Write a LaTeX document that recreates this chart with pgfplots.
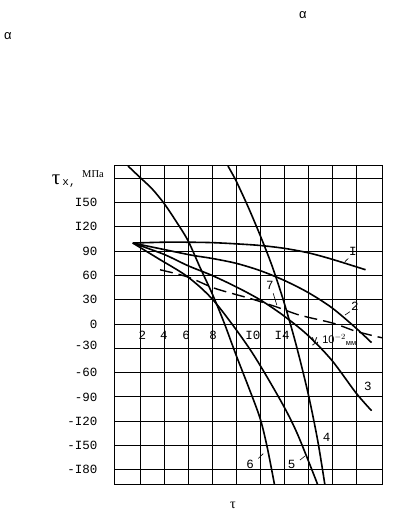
\documentclass[border=0pt]{standalone}
\usepackage{fontspec}
\setmainfont{Liberation Serif}
\newfontfamily\sansf{Liberation Sans}
\newfontfamily\monof{Liberation Mono}
\usepackage{pgfplots}
\pgfplotsset{compat=1.18}
\begin{document}
\begin{tikzpicture}[x=1pt,y=1pt]
\path[use as bounding box] (0,0) rectangle (392,516);
\begin{axis}[at={(114pt,32pt)}, anchor=south west, scale only axis,
  width=268pt, height=318pt,
  xmin=-0.167, xmax=22.17, ymin=-197.5, ymax=195.1,
  xtick={2,4,...,20}, xticklabels={},
  ytick={-180,-150,...,180},
  yticklabels={-I80,-I50,-I20,-90,-60,{\raisebox{6pt}{-30}},0,30,60,90,I20,I50,{}},
  grid=major, major grid style={black, line width=0.9pt},
  axis line style={black, line width=1pt},
  tick style={draw=none},
  yticklabel style={font=\monof\fontsize{12.5}{12.5}\selectfont, xshift=-13pt},
  /pgf/number format/assume math mode=true,
  clip=true,
]
% 1
\addplot[black, line width=1.6pt, smooth, tension=0.5] coordinates {(1.4,100) (4,101) (6,101) (8,100.5) (10,99) (12,97) (14,93.5) (16,88) (18,80) (20.8,67)};
% 2
\addplot[black, line width=1.6pt, smooth, tension=0.5] coordinates {(1.4,100) (4,92) (6.3,85) (8,81) (10,75) (12,66) (14,54) (16,39) (18,20) (20,-5) (21.3,-23)};
% 3
\addplot[black, line width=1.6pt, smooth, tension=0.5] coordinates {(1.4,100) (4,86) (6,72) (8,60) (10,46) (12,30) (14,10) (16,-14) (18,-45) (20,-85) (21.3,-107)};
% 4
\addplot[black, line width=1.6pt, smooth, tension=0.5] coordinates {(9.33,195.1) (10,177) (11,145) (12,110) (13,72) (14,27) (15,-25) (16,-85) (16.8,-143) (17.4,-197.5)};
% 5
\addplot[black, line width=1.6pt, smooth, tension=0.5] coordinates {(1.4,100) (3.5,81) (6,58) (8.25,27) (11.2,-32) (13.7,-94) (15.1,-135) (16.79,-197.5)};
% 6
\addplot[black, line width=1.6pt, smooth, tension=0.5] coordinates {(1.0,195.1) (2,181) (3,167) (4,149) (5,127) (6,103) (7,70) (8,38) (9,2) (10,-38) (11,-76) (12,-116) (12.6,-152) (13.2,-197.5)};
% 7 dashed
\addplot[black, line width=1.4pt, dash pattern=on 13pt off 6pt, smooth, tension=0.5] coordinates {(3.67,67) (6,58) (8.25,44) (11.3,31) (13.4,21) (15.3,11) (18.1,1) (20,-9) (22.17,-17)};

% curve labels
\tikzset{cl/.style={font=\monof\fontsize{12.5}{12.5}\selectfont, inner sep=0pt}}
\node[cl] at (axis cs:19.75,90) {I};
\draw[black, line width=0.6pt] (axis cs:19.36,81) -- (axis cs:19.08,77);
\node[cl] at (axis cs:19.9,21.4) {2};
\draw[black, line width=0.6pt] (axis cs:19.5,15.2) -- (axis cs:19.08,11.1);
\node[cl] at (axis cs:21.0,-76.5) {3};
\node[cl] at (axis cs:17.56,-140) {4};
\node[cl] at (axis cs:14.64,-173) {5};
\draw[black, line width=0.6pt] (axis cs:15.33,-168) -- (axis cs:15.75,-163);
\node[cl] at (axis cs:11.17,-173) {6};
\draw[black, line width=0.6pt] (axis cs:11.86,-166) -- (axis cs:12.27,-160);
\node[cl] at (axis cs:12.83,48) {7};
\draw[black, line width=0.6pt] (axis cs:13.1,38) -- (axis cs:13.4,23.5);

% x tick labels inside the plot
\node[cl] at (axis cs:2.2,-13.6) {2};
\node[cl] at (axis cs:4,-13.6) {4};
\node[cl] at (axis cs:5.85,-13.6) {6};
\node[cl] at (axis cs:8.1,-13.6) {8};
\node[cl] at (axis cs:11.4,-13.6) {I0};
\node[cl] at (axis cs:13.85,-13.6) {I4};
\node[anchor=west, font=\sansf\fontsize{11}{11}\selectfont, inner sep=0pt] at (axis cs:16.3,-20) {у, 10$^{-2}$\raisebox{-2pt}{\fontsize{7.5}{7.5}\selectfont мм}};
\end{axis}

% outside texts
\node[font=\fontsize{21}{21}\selectfont, inner sep=0pt] at (56,336) {τ};
\node[font=\monof\fontsize{11}{11}\selectfont, inner sep=0pt] at (69,332) {x,};
\node[font=\fontsize{10.5}{10.5}\selectfont, inner sep=0pt] at (93,342) {МПа};
\node[font=\sansf\fontsize{13}{13}\selectfont, inner sep=0pt] at (303,501) {α};
\node[font=\sansf\fontsize{13}{13}\selectfont, inner sep=0pt] at (8,480) {α};
\node[font=\fontsize{14}{14}\selectfont, inner sep=0pt] at (233,11) {τ};
\end{tikzpicture}
\end{document}
